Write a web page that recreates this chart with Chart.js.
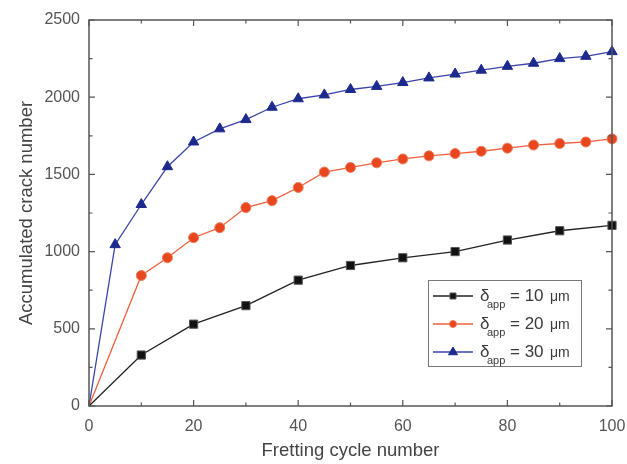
<!DOCTYPE html>
<html>
<head>
<meta charset="utf-8">
<script src="https://cdn.jsdelivr.net/npm/chart.js@4.4.0/dist/chart.umd.min.js"></script>
<style>
  html, body { margin: 0; padding: 0; background: #fff; }
  #box { width: 627px; height: 464px; }
</style>
</head>
<body>
<div id="box"><canvas id="grafico"></canvas></div>
<script>
// Dados
const ciclosPreto = [0, 10, 20, 30, 40, 50, 60, 70, 80, 90, 100];
const trincasPreto = [0, 330, 530, 650, 815, 910, 960, 1000, 1075, 1135, 1170];

const ciclosVermelho = [0, 10, 15, 20, 25, 30, 35, 40, 45, 50, 55, 60, 65, 70, 75, 80, 85, 90, 95, 100];
const trincasVermelho = [0, 845, 960, 1090, 1155, 1285, 1330, 1415, 1515, 1545, 1575, 1600, 1620, 1635, 1650, 1670, 1690, 1700, 1710, 1730];

const ciclosAzul = [0, 5, 10, 15, 20, 25, 30, 35, 40, 45, 50, 55, 60, 65, 70, 75, 80, 85, 90, 95, 100];
const trincasAzul = [0, 1045, 1305, 1550, 1710, 1795, 1855, 1935, 1990, 2015, 2050, 2070, 2095, 2125, 2150, 2175, 2200, 2220, 2250, 2265, 2295];

const rotulosLegenda = ['10', '20', '30'];
const ticksX = [0, 20, 40, 60, 80, 100];
const ticksY = [0, 500, 1000, 1500, 2000, 2500];

const FONTE = '"Liberation Sans", Arial, sans-serif';

// junta x e y em pontos
function pontos(xs, ys) {
    return xs.map((x, i) => ({ x: x, y: ys[i] }));
}

// raio zero no ponto de origem
function raios(xs, r) {
    return xs.map((x, i) => (i === 0 ? 0 : r));
}

const series = [
    { rotulo: rotulosLegenda[0], xs: ciclosPreto, ys: trincasPreto, linha: '#222222', cor: '#111111', borda: '#555555', estilo: 'rect', raio: 5.8, raioLeg: 3 },
    { rotulo: rotulosLegenda[1], xs: ciclosVermelho, ys: trincasVermelho, linha: '#f0603c', cor: '#e8461f', borda: '#f07a55', estilo: 'circle', raio: 5, raioLeg: 3.5 },
    { rotulo: rotulosLegenda[2], xs: ciclosAzul, ys: trincasAzul, linha: '#3a44a8', cor: '#1c2a8e', borda: '#1c2a8e', estilo: 'triangle', raio: 6, raioLeg: 5 }
];

// Plugin: moldura, ticks para dentro e legenda
const molduraPlugin = {
    id: 'moldura',
    afterDatasetsDraw(chart) {
        const ctx = chart.ctx;
        const a = chart.chartArea;
        const sx = chart.scales.x;
        const sy = chart.scales.y;
        ctx.save();
        ctx.strokeStyle = '#555';
        ctx.lineWidth = 1.5;
        ctx.strokeRect(a.left, a.top, a.right - a.left, a.bottom - a.top);
        ctx.lineWidth = 1.2;
        ctx.beginPath();
        for (let v = 0; v <= 100; v += 10) {
            const px = sx.getPixelForValue(v);
            const len = v % 20 === 0 ? 6 : 3.5;
            ctx.moveTo(px, a.bottom); ctx.lineTo(px, a.bottom - len);
            ctx.moveTo(px, a.top); ctx.lineTo(px, a.top + len);
        }
        for (let v = 0; v <= 2500; v += 250) {
            const py = sy.getPixelForValue(v);
            const len = v % 500 === 0 ? 6 : 3.5;
            ctx.moveTo(a.left, py); ctx.lineTo(a.left + len, py);
            ctx.moveTo(a.right, py); ctx.lineTo(a.right - len, py);
        }
        ctx.stroke();

        // legenda
        const lx = 428, ly = 280, lw = 153, lh = 86;
        ctx.fillStyle = '#fff';
        ctx.fillRect(lx, ly, lw, lh);
        ctx.strokeStyle = '#777';
        ctx.lineWidth = 1;
        ctx.strokeRect(lx + 0.5, ly + 0.5, lw, lh);
        series.forEach((s, i) => {
            const y = ly + 16 + i * 28;
            ctx.strokeStyle = s.linha;
            ctx.lineWidth = 1.3;
            ctx.beginPath();
            ctx.moveTo(lx + 5, y); ctx.lineTo(lx + 45, y);
            ctx.stroke();
            ctx.fillStyle = s.cor;
            ctx.strokeStyle = s.borda;
            ctx.lineWidth = 1;
            ctx.beginPath();
            const r = s.raioLeg;
            const cx = lx + 25;
            if (s.estilo === 'rect') {
                ctx.rect(cx - r, y - r, 2 * r, 2 * r);
            } else if (s.estilo === 'circle') {
                ctx.arc(cx, y, r, 0, Math.PI * 2);
            } else {
                ctx.moveTo(cx, y - r);
                ctx.lineTo(cx + r * 0.9, y + r * 0.55);
                ctx.lineTo(cx - r * 0.9, y + r * 0.55);
                ctx.closePath();
            }
            ctx.fill();
            ctx.stroke();
            ctx.fillStyle = '#3a3a3a';
            ctx.textBaseline = 'middle';
            ctx.textAlign = 'left';
            ctx.font = '17px ' + FONTE;
            ctx.fillText('δ', lx + 52, y);
            ctx.font = '11px ' + FONTE;
            ctx.fillText('app', lx + 59, y + 9);
            ctx.font = '17px ' + FONTE;
            ctx.fillText('= ' + s.rotulo, lx + 82, y);
            ctx.font = '14px ' + FONTE;
            ctx.fillText('μm', lx + 122, y + 1);
        });
        ctx.restore();
    }
};

const ctx = document.getElementById('grafico').getContext('2d');
new Chart(ctx, {
    type: 'scatter',
    data: {
        datasets: series.map(s => ({
            label: s.rotulo,
            data: pontos(s.xs, s.ys),
            showLine: true,
            borderColor: s.linha,
            borderWidth: 1.3,
            backgroundColor: s.cor,
            pointBorderColor: s.borda,
            pointBorderWidth: 1,
            pointStyle: s.estilo,
            pointRadius: raios(s.xs, s.raio),
            pointHoverRadius: raios(s.xs, s.raio),
            clip: false
        }))
    },
    options: {
        responsive: true,
        maintainAspectRatio: false,
        animation: false,
        layout: { padding: { left: 0, right: 15, top: 20, bottom: 0 } },
        plugins: {
            legend: { display: false },
            tooltip: { enabled: false }
        },
        scales: {
            x: {
                type: 'linear',
                min: 0, max: 100,
                afterFit: (scale) => { scale.height = 58; scale.paddingLeft = 0; scale.paddingRight = 0; },
                afterBuildTicks: (scale) => { scale.ticks = ticksX.map(v => ({ value: v })); },
                grid: { display: false, drawTicks: false },
                border: { display: false },
                ticks: { color: '#555', font: { size: 16, family: FONTE }, padding: 11, maxRotation: 0, callback: (v) => String(v) },
                title: { display: true, text: 'Fretting cycle number', color: '#444', font: { size: 18.5, family: FONTE }, padding: { top: 0, bottom: 2 } }
            },
            y: {
                min: 0, max: 2500,
                afterFit: (scale) => { scale.width = 89; scale.paddingTop = 0; scale.paddingBottom = 0; },
                afterBuildTicks: (scale) => { scale.ticks = ticksY.map(v => ({ value: v })); },
                grid: { display: false, drawTicks: false },
                border: { display: false },
                ticks: { color: '#555', font: { size: 16, family: FONTE }, padding: 9, callback: (v) => String(v) },
                title: { display: true, text: 'Accumulated crack number', color: '#444', font: { size: 18.5, family: FONTE }, padding: { top: 16, bottom: 0 } }
            }
        }
    },
    plugins: [molduraPlugin]
});
</script>
</body>
</html>
